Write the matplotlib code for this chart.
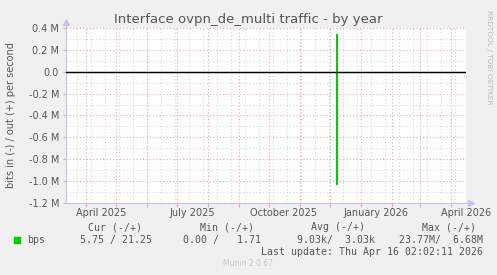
"""Munin: Interface ovpn_de_multi traffic - by year"""
import datetime as dt
import matplotlib
matplotlib.use('Agg')
import matplotlib.pyplot as plt
from matplotlib.patches import Rectangle

# --- data ---
t_dates = ['2025-03-12', '2025-12-06', '2025-12-07', '2025-12-08', '2026-04-16']
bps_in = [0, 0, -1.027e6, 0, 0]     # drawn negative
bps_out = [0, 0, 0.345e6, 0, 0]

y_ticks = [0.4e6, 0.2e6, 0.0, -0.2e6, -0.4e6, -0.6e6, -0.8e6, -1.0e6, -1.2e6]
y_labels = ['0.4 M', '0.2 M', '0.0', '-0.2 M', '-0.4 M', '-0.6 M', '-0.8 M', '-1.0 M', '-1.2 M']
x_labels = ['April 2025', 'July 2025', 'October 2025', 'January 2026', 'April 2026']
x_label_dates = ['2025-04-16', '2025-07-16', '2025-10-16', '2026-01-16', '2026-04-16']

hdr = ['Cur (-/+)', 'Min (-/+)', 'Avg (-/+)', 'Max (-/+)']
row = ['5.75 / 21.25', '0.00 /   1.71', '9.03k/  3.03k', '23.77M/  6.68M']
last_update = 'Last update: Thu Apr 16 02:02:11 2026'

W, H = 497, 275
TXT = '#555555'
RED = '#eaa8a8'
GRY = '#d6d6d6'
AXC = '#c4c4f4'

end = dt.datetime(2026, 4, 16, 2, 2)
start = end - dt.timedelta(days=400)

fig = plt.figure(figsize=(W/100, H/100), dpi=100, facecolor='#f0f0f0')
ax = fig.add_axes([66/W, 72/H, 400/W, 175/H])
ax.set_facecolor('white')
ax.set_xlim(start, end)
ax.set_ylim(-1.2e6, 0.4e6)

# grid
for v in [0.3e6, 0.1e6, -0.1e6, -0.3e6, -0.5e6, -0.7e6, -0.9e6, -1.1e6]:
    ax.axhline(v, color=GRY, lw=0.8, ls=(0, (1, 2)), zorder=1)
for v in y_ticks:
    ax.axhline(v, color=RED, lw=0.8, ls=(0, (1, 2)), zorder=1.5)
d = dt.datetime(2025, 3, 23)
while d < end:
    ax.axvline(d, color=GRY, lw=0.8, ls=(0, (1, 2)), zorder=1)
    d += dt.timedelta(days=14)
months = []
y, m = 2025, 4
while dt.datetime(y, m, 1) < end:
    months.append(dt.datetime(y, m, 1))
    m += 1
    if m > 12:
        y, m = y + 1, 1
for mm in months:
    ax.axvline(mm, color=RED, lw=0.8, ls=(0, (1, 2)), zorder=1.5)

# data
td = [dt.datetime.fromisoformat(s) for s in t_dates]
ax.plot(td, bps_in, color='#00cc00', lw=0.8, drawstyle='steps-post', zorder=3)
ax.plot(td, bps_out, color='#00cc00', lw=0.7, drawstyle='steps-post', zorder=3)
ax.axhline(0, color='black', lw=1.0, zorder=4)

# axes
for s in ['top', 'right']:
    ax.spines[s].set_visible(False)
for s in ['left', 'bottom']:
    ax.spines[s].set_color(AXC)
    ax.spines[s].set_linewidth(0.8)
ax.plot([0, 0], [1, 1.03], color=AXC, lw=0.8, transform=ax.transAxes, clip_on=False)
ax.plot([0], [1.035], marker='^', ms=4, color=AXC, transform=ax.transAxes, clip_on=False)
ax.plot([1, 1.01], [0, 0], color=AXC, lw=0.8, transform=ax.transAxes, clip_on=False)
ax.plot([1.012], [0], marker='>', ms=4, color=AXC, transform=ax.transAxes, clip_on=False)

ax.set_yticks(y_ticks)
ax.set_yticklabels(y_labels)
ax.tick_params(axis='y', length=2, color=RED, pad=3, labelsize=7, labelcolor=TXT)
ax.set_xticks(months)
ax.set_xticklabels([])
ax.tick_params(axis='x', length=3, color=RED, width=0.8)
for lab, ds in zip(x_labels, x_label_dates):
    ax.text(dt.datetime.fromisoformat(ds), -10/175, lab, ha='center', va='center',
            fontsize=7, color=TXT, transform=ax.get_xaxis_transform(), clip_on=False)

# texts
fig.text(248.5/W, 1 - 19.5/H, 'Interface ovpn_de_multi traffic - by year',
         ha='center', va='center', fontsize=9.5, color=TXT)
fig.text(11/W, 1 - 115/H, 'bits in (-) / out (+) per second', rotation=90,
         ha='center', va='center', fontsize=7, color=TXT)
fig.text(489/W, 1 - 57/H, 'RRDTOOL / TOBI OETIKER', rotation=270,
         ha='center', va='center', fontsize=5.3, color='#bbbbbb')

mono = dict(family='DejaVu Sans Mono', fontsize=7.1, color=TXT, va='center')
for txt, xr in zip(hdr, [142, 254, 365, 476]):
    fig.text(xr/W, 1 - 227.3/H, txt, ha='right', **mono)
fig.patches.append(Rectangle((14/W, 1 - 243/H), 6/W, 6/H, color='#00cc00',
                             transform=fig.transFigure))
fig.text(27/W, 1 - 239.7/H, 'bps', ha='left', **mono)
for txt, xr in zip(row, [152, 261, 375, 483]):
    fig.text(xr/W, 1 - 239.7/H, txt, ha='right', **mono)
fig.text(483/W, 1 - 251.7/H, last_update, ha='right', **mono)
fig.text(248/W, 1 - 263.5/H, 'Munin 2.0.67', ha='center', va='center',
         fontsize=5.5, color='#c8c8c8')

fig.savefig('out.png', dpi=100, facecolor=fig.get_facecolor())
